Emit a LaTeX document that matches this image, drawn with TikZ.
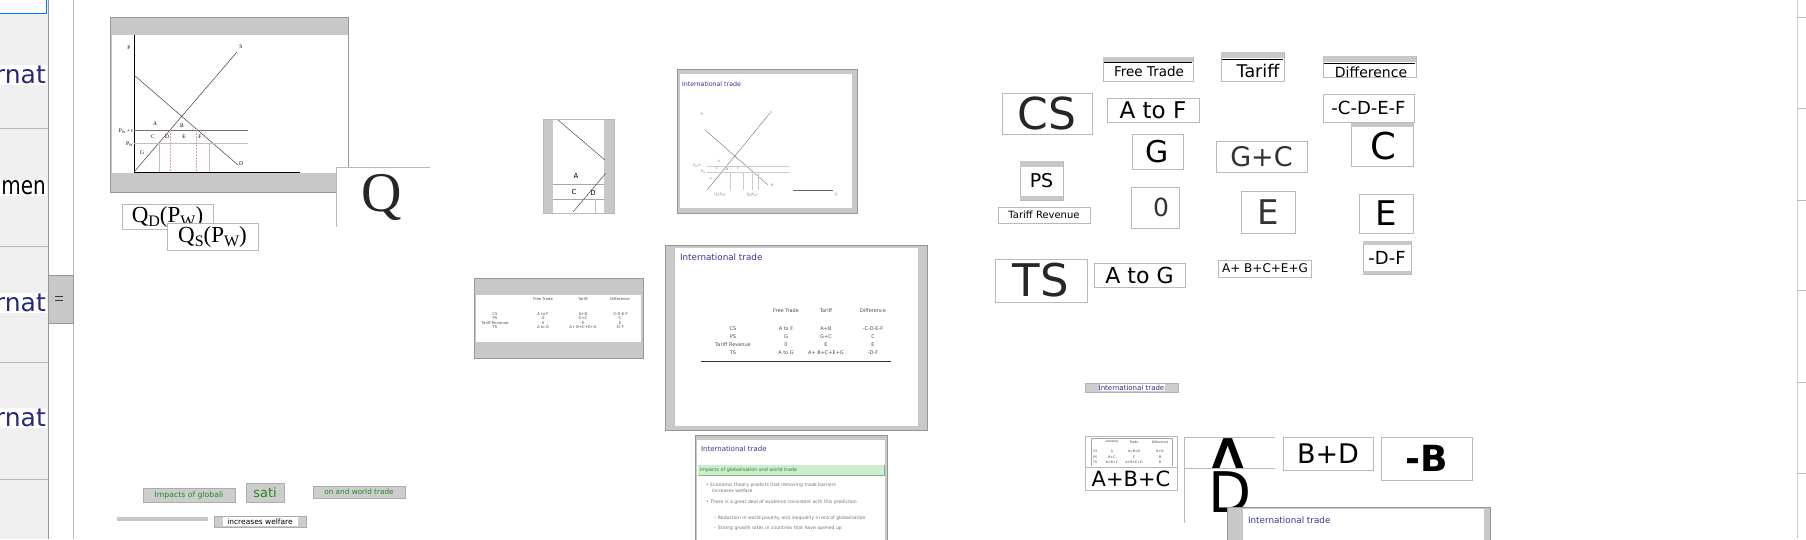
\documentclass[tikz,border=0pt]{standalone}
\usepackage{fontspec}
\setmainfont{DejaVu Sans}
\newfontfamily\serif{Liberation Serif}
\newcommand{\fsz}[1]{\fontsize{#1}{#1}\selectfont}
\newcommand{\lowsub}[2]{{\fontsize{#1}{#1}\selectfont\raisebox{-0.25em}{#2}}}
\definecolor{band}{RGB}{200,200,200}
\definecolor{frame}{RGB}{150,150,150}
\definecolor{panel}{RGB}{240,240,240}
\definecolor{navy}{RGB}{40,40,125}
\definecolor{titleblue}{RGB}{55,55,150}
\definecolor{greenbox}{RGB}{208,236,208}
\definecolor{greentext}{RGB}{35,135,35}
\definecolor{lightline}{RGB}{185,185,185}
\definecolor{dashred}{RGB}{225,160,160}
\definecolor{btngray}{RGB}{205,205,205}
\begin{document}
\begin{tikzpicture}[x=1pt,y=-1pt,
  txt/.style={inner sep=0pt, outer sep=0pt},
  frag/.style={draw=lightline, fill=white, line width=0.7pt},
  slideframe/.style={draw=frame, line width=0.7pt},
  gl/.style={inner sep=0pt, font=\serif\fsz{5.5}},
  gs/.style={inner sep=0pt, font=\serif\fsz{3.5}, text=black!60},
  cellbig/.style={inner sep=0pt, font=\fsz{5}, text=black!70},
  cellsmall/.style={inner sep=0pt, font=\fsz{3.8}, text=black!70},
  cellmini/.style={inner sep=0pt, font=\fsz{3.2}, text=black!75},
  bullet/.style={inner sep=0pt, anchor=west, font=\fsz{4.6}, text=black!55},
  big/.style={inner sep=0pt, text=black},
  btn/.style={draw=gray!65, fill=btngray, line width=0.7pt},
]
\useasboundingbox (0,0) rectangle (1806,539);
\fill[white] (0,0) rectangle (1806,539);

% ---------------- left navigation panel
\begin{scope}
\clip (0,0) rectangle (48,539);
\fill[panel] (0,0) rectangle (48,539);
\draw[draw=blue!55!cyan, fill=white, line width=0.8pt] (-3,-3) rectangle (46.5,13);
\foreach \yy in {128,246,362,479} \draw[lightline, line width=0.6pt] (0,\yy) -- (48,\yy);
\node[anchor=east, fill=white, inner sep=1pt, text=navy, font=\fsz{25}] (navA) at (47,75) {rnat};
\node[anchor=east, fill=white, inner sep=1pt, text=black, font=\fsz{25}] (navB) at (47,188) {\scalebox{0.8}[1]{nmen}};
\node[anchor=east, fill=white, inner sep=1pt, text=navy, font=\fsz{25}] (navC) at (47,303) {rnat};
\node[anchor=east, fill=white, inner sep=1pt, text=navy, font=\fsz{25}] (navD) at (47,418) {rnat};
\end{scope}
\draw[frame, line width=0.6pt] (48,0) -- (48,539);
\draw[lightline, line width=0.6pt] (73,0) -- (73,539);
\fill[band] (48,275) rectangle (73,323);
\draw[frame, line width=0.6pt] (48,275) rectangle (73,323);
\draw[gray!45!black, line width=1.3pt] (55,296.5) -- (63,296.5) (55,300.5) -- (63,300.5);

% ---------------- slide 1 : tariff graph
\fill[band] (110,17) rectangle (348,192);
\fill[white] (112,35) rectangle (348,173);
\draw[slideframe] (110,17) rectangle (348,192);
\draw[line width=0.5pt] (134,35) -- (134,172) -- (300,172);
\draw[line width=0.5pt, black!75] (134,75) -- (238,165);
\draw[line width=0.5pt, black!75] (134,172) -- (237,52);
\draw[line width=0.4pt, black!55] (134,130) -- (248,130);
\draw[line width=0.4pt, black!25] (134,143) -- (248,143);
\draw[line width=0.4pt, black!25] (159,143) -- (159,172);
\draw[line width=0.4pt, black!25] (209,143) -- (209,172);
\draw[line width=0.4pt, dashred, dash pattern=on 2pt off 1pt] (170,130) -- (170,172);
\draw[line width=0.4pt, dashred, dash pattern=on 2pt off 1pt] (196,130) -- (196,172);
\node[gl] (gP) at (129,48) {P};
\node[gl] (gS) at (241,47) {S};
\node[gl] (gDD) at (241,164) {D};
\node[gl, anchor=east] (gPt) at (133,131) {P\lowsub{3.8}{W} + t};
\node[gl, anchor=east] (gPw) at (133,144) {P\lowsub{3.8}{W}};
\node[gl] (gA) at (155,124) {A};
\node[gl] (gB) at (182,126) {B};
\node[gl] (gC) at (153,137) {C};
\node[gl] (gD) at (167,137) {D};
\node[gl] (gE) at (184,137) {E};
\node[gl] (gF) at (200,137) {F};
\node[gl] (gG) at (142,153) {G};

% Q box
\fill[white] (336,167) rectangle (430,227);
\draw[lightline, line width=0.7pt] (430,167) -- (336,167) -- (336,227);
\node[big, font=\serif\fsz{56}, text=black!85] (bigQ) at (382,197) {Q};

% Q_D and Q_S boxes
\node[frag, minimum width=91pt, minimum height=25pt, inner sep=0pt, font=\serif\fsz{23}] (qd) at (167.5,216.5) {Q\lowsub{16}{D}(P\lowsub{16}{W})};
\node[frag, minimum width=91pt, minimum height=27pt, inner sep=0pt, font=\serif\fsz{23}] (qs) at (212.5,236.5) {Q\lowsub{16}{S}(P\lowsub{16}{W})};

% ---------------- slide fragment (A C D)
\fill[band] (543,119) rectangle (614,213);
\fill[white] (553,119) rectangle (604,213);
\draw[lightline, line width=0.6pt] (543,119) rectangle (614,213);
\begin{scope}
\clip (553,119) rectangle (606,213);
\draw[line width=0.5pt, black!70] (558,120) -- (605,160);
\draw[line width=0.4pt, black!35] (553,184) -- (604,184);
\draw[line width=0.4pt, black!35] (553,199) -- (604,199);
\draw[line width=0.5pt, black!70] (573,212) -- (606,173);
\draw[line width=0.4pt, black!25] (595,199) -- (595,213);
\end{scope}
\node[txt, font=\fsz{7}] (fA) at (576,176) {A};
\node[txt, font=\fsz{7}] (fC) at (574,192) {C};
\node[txt, font=\fsz{7}] (fD) at (593,193) {D};

% ---------------- slide 2 : small graph
\fill[band] (677,69) rectangle (857,213);
\fill[white] (680,74) rectangle (852,208);
\draw[slideframe] (677,69) rectangle (857,213);
\node[txt, anchor=west, text=titleblue, font=\fsz{6.3}] (s2t) at (682,84) {International trade};
\draw[line width=0.4pt, black!55] (705,130) -- (768,185);
\draw[line width=0.4pt, black!55] (707,190) -- (770,113);
\draw[line width=0.3pt, black!20] (707,166) -- (790,166);
\draw[line width=0.3pt, black!20] (707,172) -- (790,172);
\foreach \xx in {730,743,752,758} \draw[line width=0.3pt, black!20] (\xx,172) -- (\xx,190);
\draw[line width=0.4pt, black!60] (793,190) -- (833,190);
\node[gs] (s2P) at (702,114) {P};
\node[gs] (s2S) at (771,112) {S};
\node[gs] (s2D) at (772,185) {D};
\node[gs] (s2Pt) at (697,166) {P\lowsub{2.5}{W}+t};
\node[gs] (s2Pw) at (703,172) {P\lowsub{2.5}{W}};
\node[gs] (s2A) at (719,161) {A};
\node[gs] (s2C) at (717,168) {C};
\node[gs] (s2E) at (727,169) {D};
\node[gs] (s2F) at (738,168) {F};
\node[gs] (s2G) at (711,178) {G};
\node[gs] (s2qs) at (720,195) {Q\lowsub{2.5}{S}(P\lowsub{2.5}{W})};
\node[gs] (s2qd) at (752,195) {Q\lowsub{2.5}{D}(P\lowsub{2.5}{W})};
\node[gs] (s2Q) at (836,195) {Q};

% ---------------- slide 3 : small table
\fill[band] (474,278) rectangle (643,358);
\fill[white] (476,295) rectangle (641,342);
\draw[slideframe] (474,278) rectangle (643,358);
\node[cellsmall] (t1h1) at (543,299) {Free Trade};
\node[cellsmall] (t1h2) at (583,299) {Tariff};
\node[cellsmall] (t1h3) at (620,299) {Difference};
\node[cellsmall] (t1r1) at (495,314) {CS};
\node[cellsmall] (t1r2) at (495,318.5) {PS};
\node[cellsmall] (t1r3) at (495,323) {Tariff Revenue};
\node[cellsmall] (t1r4) at (495,327.5) {TS};
\node[cellsmall] (t1a1) at (543,314) {A to F};
\node[cellsmall] (t1b1) at (583,314) {A+B};
\node[cellsmall] (t1c1) at (620,314) {-C-D-E-F};
\node[cellsmall] (t1a2) at (543,318.5) {G};
\node[cellsmall] (t1b2) at (583,318.5) {G+C};
\node[cellsmall] (t1c2) at (620,318.5) {C};
\node[cellsmall] (t1a3) at (543,323) {0};
\node[cellsmall] (t1b3) at (583,323) {E};
\node[cellsmall] (t1c3) at (620,323) {E};
\node[cellsmall] (t1a4) at (543,327.5) {A to G};
\node[cellsmall] (t1b4) at (583,327.5) {A+ B+C+E+G};
\node[cellsmall] (t1c4) at (620,327.5) {-D-F};

% ---------------- slide 4 : big table
\fill[band] (665,245) rectangle (927,430);
\fill[white] (675,248) rectangle (918,426);
\draw[slideframe] (665,245) rectangle (927,430);
\node[txt, anchor=west, text=titleblue, font=\fsz{8.8}] (s4t) at (680,257) {International trade};
\node[cellbig] (t2h1) at (786,311) {Free Trade};
\node[cellbig] (t2h2) at (826,311) {Tariff};
\node[cellbig] (t2h3) at (873,311) {Difference};
\node[cellbig] (t2r1) at (733,329) {CS};
\node[cellbig] (t2r2) at (733,337) {PS};
\node[cellbig] (t2r3) at (733,345) {Tariff Revenue};
\node[cellbig] (t2r4) at (733,353) {TS};
\node[cellbig] (t2a1) at (786,329) {A to F};
\node[cellbig] (t2b1) at (826,329) {A+B};
\node[cellbig] (t2c1) at (873,329) {-C-D-E-F};
\node[cellbig] (t2a2) at (786,337) {G};
\node[cellbig] (t2b2) at (826,337) {G+C};
\node[cellbig] (t2c2) at (873,337) {C};
\node[cellbig] (t2a3) at (786,345) {0};
\node[cellbig] (t2b3) at (826,345) {E};
\node[cellbig] (t2c3) at (873,345) {E};
\node[cellbig] (t2a4) at (786,353) {A to G};
\node[cellbig] (t2b4) at (826,353) {A+ B+C+E+G};
\node[cellbig] (t2c4) at (873,353) {-D-F};
\draw[line width=0.6pt, black!80] (701,361) -- (891,361);

% ---------------- slide 5 : globalisation bullets
\fill[band] (695,435) rectangle (887,545);
\fill[white] (697,440) rectangle (885,545);
\draw[slideframe] (695,435) rectangle (887,545);
\node[txt, anchor=west, text=titleblue, font=\fsz{7}] (s5t) at (701,449) {International trade};
\fill[greenbox] (698,465) rectangle (884,475);
\draw[green!45!black!50, line width=0.5pt] (698,475) -- (884,475) -- (884,465);
\node[txt, anchor=west, text=greentext, font=\fsz{4.8}] (s5g) at (700,470) {Impacts of globalisation and world trade};
\node[bullet] (b1) at (706,485) {\textbullet\ Economic theory predicts that removing trade barriers};
\node[bullet] (b1b) at (712,491) {increases welfare};
\node[bullet] (b2) at (706,502) {\textbullet\ There is a great deal of evidence consistent with this prediction};
\node[bullet] (b3) at (714,518) {-- Reduction in world poverty and inequality in era of globalisation};
\node[bullet] (b4) at (714,528) {-- Strong growth rates in countries that have opened up};

% ---------------- large fragments: tariff table headers
\draw[frag] (1103,57) rectangle (1193,81);
\fill[band] (1103,57) rectangle (1193,62);
\draw[black, line width=0.8pt] (1104,62.5) -- (1192,62.5);
\node[txt, font=\fsz{13.5}] (ft) at (1149,71) {Free Trade};

\draw[frag] (1221,52) rectangle (1284,81);
\fill[band] (1221,52) rectangle (1284,58);
\draw[black, line width=0.8pt] (1222,59) -- (1283,59);
\node[txt, font=\fsz{17.5}] (tar) at (1258,70.5) {Tariff};

\draw[frag] (1323,56) rectangle (1416,77);
\fill[band] (1323,56) rectangle (1416,62);
\draw[black, line width=0.8pt] (1324,63) -- (1415,63);
\node[txt, font=\fsz{14}] (dif) at (1371,72) {Difference};

% ---------------- large fragments: cells
\node[frag, minimum width=90pt, minimum height=41pt, font=\fsz{44}, text=black!85] (cs) at (1047,113.5) {CS};
\node[frag, minimum width=92pt, minimum height=24pt, font=\fsz{23}] (atof) at (1153,110) {A to F};
\node[frag, minimum width=91pt, minimum height=28pt, font=\fsz{18}] (cdef) at (1368.5,108) {-C-D-E-F};
\draw[frag] (1351,123) rectangle (1413,166);
\fill[band] (1351,123) rectangle (1413,127);
\node[txt, font=\fsz{37}] (cC) at (1383,146) {C};
\node[frag, minimum width=51pt, minimum height=35pt, font=\fsz{30}] (gG) at (1157.5,151.5) {G};
\node[frag, minimum width=91pt, minimum height=31pt, font=\fsz{27}, text=black!80] (gpc) at (1261.5,156.5) {G+C};
\draw[frag] (1020,161) rectangle (1063,200);
\fill[band] (1020,161) rectangle (1063,167);
\fill[band] (1020,196) rectangle (1063,200);
\node[txt, font=\fsz{19}] (ps) at (1041.5,181) {PS};
\node[frag, minimum width=92pt, minimum height=16pt, font=\fsz{10}] (trev) at (1044,215) {Tariff Revenue};
\node[frag, minimum width=48pt, minimum height=41pt, font=\fsz{25}, text=black!80] (zero) at (1155,207.5) {\hspace*{12pt}0};
\node[frag, minimum width=54pt, minimum height=42pt, font=\fsz{34}, text=black!80] (eMid) at (1268,212) {E};
\node[frag, minimum width=54pt, minimum height=39pt, font=\fsz{34}] (eRight) at (1386,213.5) {E};
\draw[frag] (1363,241) rectangle (1411,274);
\fill[band] (1363,241) rectangle (1411,245);
\fill[band] (1363,271) rectangle (1411,274);
\node[txt, font=\fsz{18}] (df) at (1387,258) {-D-F};
\node[frag, minimum width=92pt, minimum height=43pt, font=\fsz{45}, text=black!85] (ts) at (1041,280.5) {TS};
\node[frag, minimum width=91pt, minimum height=24pt, font=\fsz{22}] (atog) at (1139.5,275) {A to G};
\node[frag, minimum width=92pt, minimum height=17pt, font=\fsz{12}] (abceg) at (1265,268.5) {A+ B+C+E+G};

% ---------------- autarky fragments
\node[draw=gray!60, fill=btngray, minimum width=93pt, minimum height=9pt, inner sep=0pt] (itbox) at (1131.5,387.5) {};
\fill[white] (1100,384) rectangle (1165,391);
\node[txt, font=\fsz{7}, text=navy] (ittxt) at (1131.5,387.5) {International trade};

\node[frag, minimum width=92pt, minimum height=31pt, inner sep=0pt] (mini) at (1131,451.5) {};
\draw[gray!70, line width=0.5pt] (1091,438) -- (1091,466) (1091,438) -- (1172,438) -- (1172,466);
\node[cellmini] (m1) at (1112,442) {Autarky};
\node[cellmini] (m2) at (1134,442) {Trade};
\node[cellmini] (m3) at (1160,442) {Difference};
\node[cellmini, anchor=west] (m4) at (1093,451) {CS};
\node[cellmini, anchor=west] (m5) at (1093,457) {PS};
\node[cellmini, anchor=west] (m6) at (1093,462) {TS};
\node[cellmini] (m7) at (1112,451) {A};
\node[cellmini] (m8) at (1134,451) {A+B+D};
\node[cellmini] (m9) at (1160,451) {B+D};
\node[cellmini] (m10) at (1112,457) {B+C};
\node[cellmini] (m11) at (1134,457) {C};
\node[cellmini] (m12) at (1160,457) {-B};
\node[cellmini] (m13) at (1112,462) {A+B+C};
\node[cellmini] (m14) at (1134,462) {A+B+C+D};
\node[cellmini] (m15) at (1160,462) {D};
\node[frag, minimum width=92pt, minimum height=23pt, font=\fsz{21}] (abc) at (1131,478.5) {A+B+C};

\fill[white] (1184,437) rectangle (1275,468);
\begin{scope}
\clip (1184,437) rectangle (1275,468);
\node[txt, font=\fsz{78}, anchor=north] (capA) at (1228,439) {A};
\end{scope}
\draw[lightline, line width=0.7pt] (1275,437) -- (1184,437) -- (1184,523);
\draw[lightline, line width=0.7pt] (1184,468) -- (1275,468);
\node[txt, font=\fsz{56}, anchor=north] (capD) at (1230,472) {D};

\node[frag, minimum width=90pt, minimum height=33pt, font=\fsz{27}] (bd) at (1328,453.5) {B+D};
\node[frag, minimum width=91pt, minimum height=43pt, font=\bfseries\fsz{36}] (mB) at (1426.5,458.5) {-B};

% ---------------- bottom-right slide
\fill[band] (1227,507) rectangle (1490,545);
\fill[white] (1243,509) rectangle (1484,545);
\draw[slideframe] (1227,507) rectangle (1490,545);
\node[txt, anchor=west, text=titleblue, font=\fsz{8.8}] (s6t) at (1248,520) {International trade};

% ---------------- bottom-left green pieces
\node[btn, minimum width=92pt, minimum height=14pt, inner sep=0pt, text=greentext, font=\fsz{7.7}] (imp) at (189,495) {Impacts of globali};
\node[btn, minimum width=38pt, minimum height=19pt, inner sep=0pt, text=greentext, font=\fsz{13}] (sati) at (265,492.5) {sati};
\node[btn, minimum width=92pt, minimum height=12pt, inner sep=0pt, text=greentext, font=\fsz{7.3}] (owt) at (359,492) {on and world trade};
\fill[band] (117,517) rectangle (208,521);
\node[btn, minimum width=92pt, minimum height=11pt, inner sep=0pt] (incbox) at (260,521.5) {};
\fill[white] (223,517) rectangle (298,526);
\node[txt, font=\fsz{7.5}] (inc) at (260,521.5) {increases welfare};

% ---------------- right edge scrollbar
\draw[lightline!70, line width=0.7pt] (1797,0) -- (1797,539);
\foreach \yy in {17,108,200,290,382,473} \draw[lightline, line width=0.7pt] (1797,\yy) -- (1806,\yy);
\end{tikzpicture}
\end{document}
